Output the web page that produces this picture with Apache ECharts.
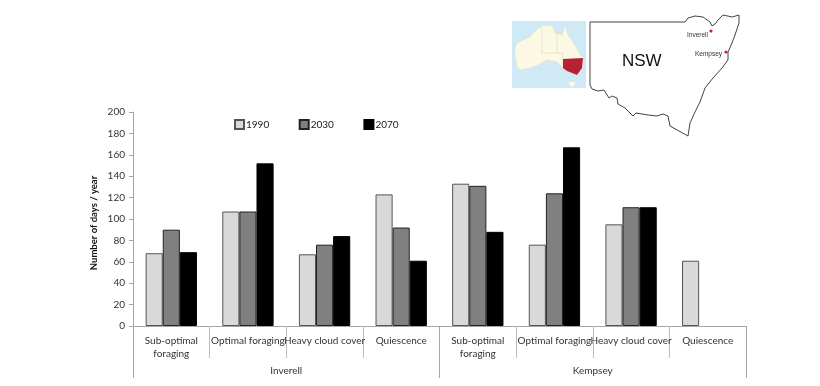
<!DOCTYPE html>
<html>
<head>
<meta charset="utf-8">
<style>
  html, body { margin: 0; padding: 0; background: #fff; }
  #chart { width: 820px; height: 386px; }
</style>
<script src="https://cdn.jsdelivr.net/npm/echarts@6/dist/echarts.min.js"></script>
</head>
<body>
<div id="chart"></div>
<script>
const activities = ['Sub-optimal\nforaging', 'Optimal foraging', 'Heavy cloud cover', 'Quiescence',
  'Sub-optimal\nforaging', 'Optimal foraging', 'Heavy cloud cover', 'Quiescence']
const sites = ['Inverell', 'Kempsey']
const days1990 = [68, 107, 67, 123, 133, 76, 95, 61]
const days2030 = [90, 107, 76, 92, 131, 124, 111, null]
const days2070 = [69, 152, 84, 61, 88, 167, 111, null]

// inset map outlines, traced in pixels of the picture
const nswOutline = [[590, 22], [685, 22], [688, 18], [695, 16], [703, 17], [710, 22], [712, 26], [715, 24], [718, 20], [723, 15], [732, 17], [739, 15], [739, 23], [735, 35], [732, 43], [728, 52], [728, 60], [722, 68], [713, 78], [705, 88], [700, 102], [695, 112], [690, 123], [688, 136], [670, 126], [668, 116], [663, 114], [657, 116], [648, 115], [636, 113], [633, 116], [625, 108], [618, 104], [617, 98], [612, 96], [609, 98], [604, 90], [598, 91], [592, 89], [590, 85]]
const australia = [[515, 48], [517, 43], [530, 37], [535, 31], [542, 26], [552, 25], [555, 33], [562, 35], [565, 25], [568, 35], [575, 45], [580, 55], [583, 58], [583, 67], [577, 75], [570, 73], [565, 70], [557, 62], [547, 60], [538, 65], [530, 68], [520, 70], [517, 67], [515, 55]]
const nswInset = [[563, 59], [583, 58], [582, 68], [577, 75], [572, 73], [567, 71], [563, 68]]
const tasmania = [[568, 82], [575, 82], [574, 86], [571, 87]]
const stateBorders = [[[542, 28], [542, 53]], [[557, 30], [557, 53]], [[542, 53], [563, 53], [563, 70]]]

const chart = echarts.init(document.getElementById('chart'))
const font = 'Lato, sans-serif'

function bar(name, data, color, border) {
  return {
    name, type: 'bar', data, barGap: 0, barCategoryGap: '33%',
    itemStyle: { color, borderColor: border, borderWidth: 1 },
  }
}

chart.setOption({
  animation: false,
  backgroundColor: '#fff',
  textStyle: { fontFamily: font },
  grid: { left: 133, right: 74, top: 112, bottom: 60 },
  legend: {
    left: 234, top: 119, padding: 0, icon: 'rect', itemWidth: 9, itemHeight: 9, itemGap: 29.5,
    textStyle: { fontSize: 10, color: '#222', padding: [0, 0, 0, -3] },
    data: ['1990', '2030', '2070'],
  },
  xAxis: [
    {
      type: 'category', data: activities, position: 'bottom',
      axisLine: { lineStyle: { color: '#a6a6a6' } },
      axisTick: { show: true, length: 32, lineStyle: { color: '#bdbdbd' } },
      axisLabel: { interval: 0, fontSize: 10, color: '#333', margin: 8, lineHeight: 13, verticalAlign: 'top' },
    },
    {
      type: 'category', data: sites, position: 'bottom',
      axisLine: { show: false },
      axisTick: { show: true, length: 52, lineStyle: { color: '#a6a6a6' } },
      axisLabel: { fontSize: 10, color: '#333', margin: 40 },
    },
  ],
  yAxis: {
    type: 'value', min: 0, max: 200, interval: 20,
    name: 'Number of days / year', nameLocation: 'middle', nameGap: 34, nameMoveOverlap: false,
    nameTextStyle: { fontSize: 9.5, fontWeight: 'bold', color: '#111', padding: [0, 8, 0, 0] },
    axisLine: { show: true, lineStyle: { color: '#a6a6a6' } },
    axisTick: { show: true, length: 4, lineStyle: { color: '#a6a6a6' } },
    axisLabel: { fontSize: 10, color: '#333', margin: 8 },
    splitLine: { show: false },
  },
  series: [
    bar('1990', days1990, '#d9d9d9', '#555'),
    bar('2030', days2030, '#808080', '#222'),
    bar('2070', days2070, '#000', '#000'),
  ],
  graphic: [
    { type: 'rect', shape: { x: 512, y: 21, width: 74, height: 67 }, style: { fill: '#cfe9f7' } },
    { type: 'polygon', shape: { points: australia }, style: { fill: '#fbf8e4', stroke: '#e4dfc0', lineWidth: 0.5 } },
    { type: 'polygon', shape: { points: tasmania }, style: { fill: '#fbf8e4' } },
    ...stateBorders.map(points => ({ type: 'polyline', shape: { points }, style: { fill: 'none', stroke: '#d8d2b0', lineWidth: 0.5 } })),
    { type: 'polygon', shape: { points: nswInset }, style: { fill: '#b72136' } },
    { type: 'polygon', shape: { points: nswOutline }, style: { fill: '#fff', stroke: '#444', lineWidth: 1 } },
    { type: 'text', style: { x: 622, y: 53, text: 'NSW', font: '17px "Liberation Sans"', fill: '#111' } },
    { type: 'text', style: { x: 687, y: 32, text: 'Inverell', font: '6.5px "Liberation Sans"', fill: '#333' } },
    { type: 'text', style: { x: 695, y: 51, text: 'Kempsey', font: '6.5px "Liberation Sans"', fill: '#333' } },
    { type: 'circle', shape: { cx: 711, cy: 31, r: 1.6 }, style: { fill: '#e0103c' } },
    { type: 'circle', shape: { cx: 726, cy: 52, r: 1.6 }, style: { fill: '#e0103c' } },
  ],
})
</script>
</body>
</html>
